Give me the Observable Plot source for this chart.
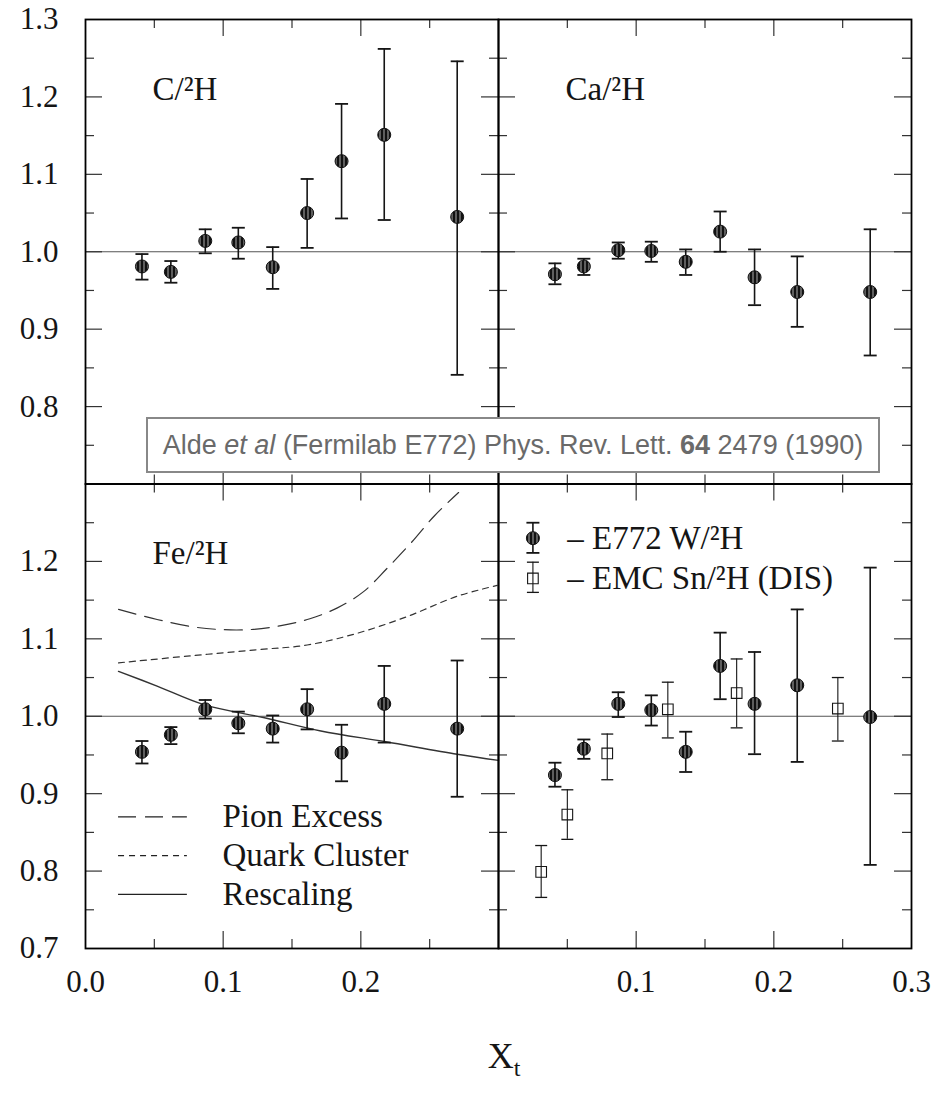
<!DOCTYPE html>
<html>
<head>
<meta charset="utf-8">
<script src="https://cdn.jsdelivr.net/npm/d3@7"></script>
<script src="https://cdn.jsdelivr.net/npm/@observablehq/plot@0.6"></script>
<style>
  body { margin: 0; background: #fff; }
  #wrap { position: relative; width: 941px; height: 1095px; }
  #cite {
    position: absolute; left: 146px; top: 417px; width: 734px; height: 56px;
    box-sizing: border-box; border: 2.5px solid #888; background: #fff; color: #6a6a6a;
    font: 27px "Liberation Sans", Arial, sans-serif; display: flex; align-items: center;
    justify-content: center; white-space: nowrap;
  }
</style>
</head>
<body>
<div id="wrap"><div id="cite">Alde&nbsp;<i>et al</i>&nbsp;(Fermilab E772) Phys. Rev. Lett.&nbsp;<b>64</b>&nbsp;2479 (1990)</div></div>
<script>
// ---------------- data ----------------
const xE772 = [0.041, 0.062, 0.087, 0.111, 0.136, 0.161, 0.186, 0.217, 0.270];

const cY  = [0.981, 0.974, 1.014, 1.012, 0.980, 1.050, 1.117, 1.151, 1.045];
const cLo = [0.964, 0.960, 0.998, 0.991, 0.952, 1.005, 1.043, 1.041, 0.841];
const cHi = [0.997, 0.988, 1.029, 1.031, 1.006, 1.094, 1.191, 1.262, 1.246];

const caY  = [0.971, 0.981, 1.002, 1.001, 0.987, 1.026, 0.967, 0.948, 0.948];
const caLo = [0.958, 0.970, 0.991, 0.987, 0.970, 1.000, 0.931, 0.903, 0.866];
const caHi = [0.985, 0.991, 1.012, 1.013, 1.003, 1.052, 1.003, 0.994, 1.029];

const feY  = [0.954, 0.976, 1.009, 0.991, 0.984, 1.009, 0.953, 1.016, 0.984];
const feLo = [0.939, 0.964, 0.997, 0.978, 0.966, 0.983, 0.916, 0.966, 0.896];
const feHi = [0.968, 0.986, 1.021, 1.006, 1.001, 1.035, 0.989, 1.065, 1.072];

const wY  = [0.924, 0.958, 1.016, 1.008, 0.954, 1.065, 1.016, 1.040, 0.999];
const wLo = [0.909, 0.945, 0.999, 0.988, 0.928, 1.022, 0.951, 0.941, 0.808];
const wHi = [0.940, 0.970, 1.031, 1.027, 0.980, 1.108, 1.083, 1.138, 1.192];

const xEMC  = [0.031, 0.050, 0.079, 0.123, 0.173, 0.2465];
const emcY  = [0.799, 0.873, 0.952, 1.009, 1.030, 1.010];
const emcLo = [0.766, 0.841, 0.918, 0.972, 0.985, 0.968];
const emcHi = [0.833, 0.905, 0.977, 1.044, 1.074, 1.050];

const pionX = [0.024, 0.052, 0.076, 0.098, 0.120, 0.142, 0.163, 0.183, 0.202, 0.219, 0.236, 0.253, 0.271];
const pionY = [1.138, 1.125, 1.116, 1.112, 1.112, 1.117, 1.126, 1.140, 1.161, 1.191, 1.223, 1.258, 1.289];
const quarkX = [0.024, 0.076, 0.125, 0.161, 0.197, 0.234, 0.270, 0.299];
const quarkY = [1.069, 1.078, 1.086, 1.092, 1.107, 1.129, 1.155, 1.169];
const rescX = [0.024, 0.052, 0.086, 0.130, 0.171, 0.218, 0.270, 0.300];
const rescY = [1.058, 1.039, 1.015, 0.998, 0.981, 0.967, 0.951, 0.943];

const panelNames = ["C/\u00B2H", "Ca/\u00B2H", "Fe/\u00B2H"];
const yTickLabelsTop = [1.3, 1.2, 1.1, 1.0, 0.9, 0.8];
const yTickLabelsBottom = [1.2, 1.1, 1.0, 0.9, 0.8, 0.7];
const xTickLabelsLeft = [0.0, 0.1, 0.2];
const xTickLabelsRight = [0.1, 0.2, 0.3];
const xMajor = [0.1, 0.2], xMinor = [0.05, 0.15, 0.25];
const yMajor = [0.8, 0.9, 1.0, 1.1, 1.2], yMinor = [0.75, 0.85, 0.95, 1.05, 1.15, 1.25];
const theoryLabels = ["Pion Excess", "Quark Cluster", "Rescaling"];
const dataLabels = ["\u2013 E772 W/\u00B2H", "\u2013 EMC Sn/\u00B2H (DIS)"];

// ---------------- layout ----------------
const W = 941, H = 1095, mL = 85, mR = 30, mT = 19, mB = 147;
const facetW = (W - mL - mR) / 2, facetH = (H - mT - mB) / 2;
const serif = "'Liberation Serif', 'Times New Roman', serif";
const FS = 31, FL = 33;
const ink = "#151515";

const series = (fx, fy, xs, ys, lo, hi) => xs.map((x, i) => ({fx, fy, x, y: ys[i], lo: lo[i], hi: hi[i]}));
const e772 = [
  ...series("L", "T", xE772, cY, cLo, cHi),
  ...series("R", "T", xE772, caY, caLo, caHi),
  ...series("L", "B", xE772, feY, feLo, feHi),
  ...series("R", "B", xE772, wY, wLo, wHi),
  {fx: "R", fy: "B", x: 0.025, y: 1.230, lo: 1.211, hi: 1.250}   // legend glyph
];
const emc = [
  ...series("R", "B", xEMC, emcY, emcLo, emcHi),
  {fx: "R", fy: "B", x: 0.025, y: 1.178, lo: 1.160, hi: 1.199}   // legend glyph
];
const curve = (xs, ys) => xs.map((x, i) => ({fx: "L", fy: "B", x, y: ys[i]}));
const pion = curve(pionX, pionY), quark = curve(quarkX, quarkY), resc = curve(rescX, rescY);

const panels = [
  {fx: "L", fy: "T", name: panelNames[0]},
  {fx: "R", fy: "T", name: panelNames[1]},
  {fx: "L", fy: "B", name: panelNames[2]}
];
const yLab = [
  ...yTickLabelsTop.map(v => ({fx: "L", fy: "T", v})),
  ...yTickLabelsBottom.map(v => ({fx: "L", fy: "B", v}))
];
const xLab = [
  ...xTickLabelsLeft.map(v => ({fx: "L", fy: "B", v})),
  ...xTickLabelsRight.map(v => ({fx: "R", fy: "B", v}))
];
const theoryLeg = theoryLabels.map((label, i) => ({fx: "L", fy: "B", label, y: 0.87 - 0.05 * i}));
const dataLeg = dataLabels.map((label, i) => ({fx: "R", fy: "B", label, y: 1.230 - 0.052 * i}));

const capSymbol = {draw(ctx, size) { const r = Math.sqrt(size / Math.PI); ctx.moveTo(-r, 0); ctx.lineTo(r, 0); }};

const tickStroke = {stroke: "#333", strokeWidth: 1.2};
function ticks(xs, ys, len) {
  return [
    Plot.ruleX(xs, {x: d => d, insetBottom: facetH - len, ...tickStroke}),
    Plot.ruleX(xs, {x: d => d, insetTop: facetH - len, ...tickStroke}),
    Plot.ruleY(ys, {y: d => d, insetRight: facetW - len, ...tickStroke}),
    Plot.ruleY(ys, {y: d => d, insetLeft: facetW - len, ...tickStroke})
  ];
}
const txt = {fontFamily: serif, fill: ink};

const svg = Plot.plot({
  width: W, height: H,
  marginLeft: mL, marginRight: mR, marginTop: mT, marginBottom: mB,
  x: {domain: [0, 0.3], axis: null},
  y: {domain: [0.7, 1.3], axis: null},
  fx: {domain: ["L", "R"], padding: 0, axis: null, round: false},
  fy: {domain: ["T", "B"], padding: 0, axis: null, round: false},
  style: {fontFamily: serif, fontSize: FS + "px", background: "#fff", color: "#000", overflow: "visible"},
  marks: [
    Plot.ruleY([1], {stroke: "#555", strokeWidth: 1.2}),
    ...ticks(xMajor, yMajor, 17),
    ...ticks(xMinor, yMinor, 9),
    // theory curves (Fe panel)
    Plot.line(pion, {x: "x", y: "y", fx: "fx", fy: "fy", curve: "catmull-rom", stroke: "#333", strokeWidth: 1.2, strokeDasharray: "18,9"}),
    Plot.line(quark, {x: "x", y: "y", fx: "fx", fy: "fy", curve: "catmull-rom", stroke: "#333", strokeWidth: 1.2, strokeDasharray: "6,5"}),
    Plot.line(resc, {x: "x", y: "y", fx: "fx", fy: "fy", curve: "catmull-rom", stroke: "#333", strokeWidth: 1.4}),
    // theory legend
    Plot.ruleY(theoryLeg.slice(0, 1), {y: "y", fx: "fx", fy: "fy", x1: 0.024, x2: 0.074, stroke: "#222", strokeWidth: 1.4, strokeDasharray: "18,9"}),
    Plot.ruleY(theoryLeg.slice(1, 2), {y: "y", fx: "fx", fy: "fy", x1: 0.024, x2: 0.074, stroke: "#222", strokeWidth: 1.2, strokeDasharray: "6,5"}),
    Plot.ruleY(theoryLeg.slice(2, 3), {y: "y", fx: "fx", fy: "fy", x1: 0.024, x2: 0.074, stroke: "#222", strokeWidth: 1.2}),
    Plot.text(theoryLeg, {y: "y", fx: "fx", fy: "fy", x: 0.0995, text: "label", textAnchor: "start", fontSize: FL, letterSpacing: "1.2px", ...txt}),
    // EMC Sn (open squares)
    Plot.ruleX(emc, {x: "x", y1: "lo", y2: "hi", fx: "fx", fy: "fy", stroke: ink, strokeWidth: 1.1}),
    Plot.dot(emc, {x: "x", y: "lo", fx: "fx", fy: "fy", r: 6, symbol: capSymbol, stroke: ink, strokeWidth: 1.3}),
    Plot.dot(emc, {x: "x", y: "hi", fx: "fx", fy: "fy", r: 6, symbol: capSymbol, stroke: ink, strokeWidth: 1.3}),
    Plot.dot(emc, {x: "x", y: "y", fx: "fx", fy: "fy", r: 6, symbol: "square", fill: "none", stroke: ink, strokeWidth: 1.1}),
    // E772 (striped circles)
    Plot.ruleX(e772, {x: "x", y1: "lo", y2: "hi", fx: "fx", fy: "fy", stroke: ink, strokeWidth: 1.6}),
    Plot.dot(e772, {x: "x", y: "lo", fx: "fx", fy: "fy", r: 6.5, symbol: capSymbol, stroke: ink, strokeWidth: 1.8}),
    Plot.dot(e772, {x: "x", y: "hi", fx: "fx", fy: "fy", r: 6.5, symbol: capSymbol, stroke: ink, strokeWidth: 1.8}),
    Plot.dot(e772, {x: "x", y: "y", fx: "fx", fy: "fy", r: 6.5, fill: "#010203", stroke: "#111", strokeWidth: 1}),
    Plot.text(dataLeg, {y: "y", fx: "fx", fy: "fy", x: 0.050, text: "label", textAnchor: "start", fontSize: FL, letterSpacing: "0.6px", ...txt}),
    // panel labels
    Plot.text(panels, {fx: "fx", fy: "fy", text: "name", frameAnchor: "top-left", dx: 67, dy: 57, textAnchor: "start", fontSize: FL, letterSpacing: "0.8px", ...txt}),
    // tick labels
    Plot.text(yLab, {fx: "fx", fy: "fy", y: "v", text: d => d.v.toFixed(1), frameAnchor: "left", dx: -27, textAnchor: "end", fontSize: FS, ...txt}),
    Plot.text(xLab, {fx: "fx", fy: "fy", x: "v", text: d => d.v.toFixed(1), frameAnchor: "bottom", dy: 43, fontSize: FS, ...txt}),
    Plot.frame({stroke: "#000", strokeWidth: 1.8})
  ]
});

// striped fill for E772 points
const s = d3.select(svg);
const defs = s.insert("defs", ":first-child");
const pat = defs.append("pattern").attr("id", "stripes").attr("patternUnits", "userSpaceOnUse").attr("width", 4).attr("height", 4);
pat.append("rect").attr("width", 4).attr("height", 4).attr("fill", "#111");
pat.append("rect").attr("x", 3).attr("width", 1).attr("height", 4).attr("fill", "#aaa");
s.selectAll("[fill='#010203']").attr("fill", "url(#stripes)");
s.selectAll("circle").filter(function() { return this.getAttribute("fill") === "#010203"; }).attr("fill", "url(#stripes)");

// axis title X_t
const t = s.append("text").attr("x", mL + facetW + 6).attr("y", 1068).attr("text-anchor", "middle")
  .attr("font-family", serif).attr("font-size", 36).attr("fill", ink);
t.append("tspan").text("X");
t.append("tspan").attr("dy", 8).attr("font-size", 24).text("t");

document.getElementById("wrap").prepend(svg);
</script>
</body>
</html>
